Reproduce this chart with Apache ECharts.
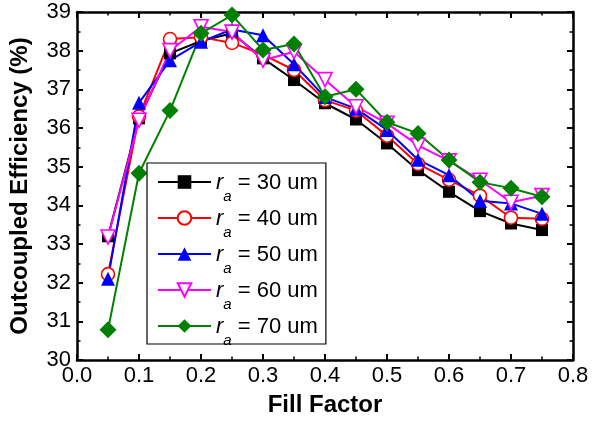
<!DOCTYPE html>
<html>
<head>
<meta charset="utf-8">
<script src="https://cdn.jsdelivr.net/npm/echarts@6/dist/echarts.min.js"></script>
<style>
  html, body { margin: 0; padding: 0; background: #fff; }
  #chart { width: 592px; height: 425px; }
</style>
</head>
<body>
<div id="chart"></div>
<script>
// fill factor values (x)
var fillFactor = [0.05, 0.1, 0.15, 0.2, 0.25, 0.3, 0.35, 0.4, 0.45, 0.5, 0.55, 0.6, 0.65, 0.7, 0.75]
// outcoupled efficiency (%) for each ra
var eff30 = [33.2, 36.25, 37.93, 38.25, 38.45, 37.8, 37.24, 36.64, 36.22, 35.6, 34.91, 34.35, 33.85, 33.53, 33.36]
var eff40 = [32.22, 36.3, 38.3, 38.35, 38.2, 37.9, 37.5, 36.72, 36.45, 35.8, 35.07, 34.66, 34.25, 33.68, 33.65]
var eff50 = [32.1, 36.65, 37.75, 38.23, 38.55, 38.4, 37.65, 36.8, 36.5, 35.95, 35.18, 34.78, 34.12, 34.05, 33.78]
var eff60 = [33.18, 36.2, 38.0, 38.62, 38.48, 37.75, 37.97, 37.25, 36.55, 36.12, 35.55, 35.15, 34.65, 34.08, 34.25]
var eff70 = [30.78, 34.83, 36.45, 38.45, 38.92, 38.02, 38.17, 36.81, 37.0, 36.15, 35.86, 35.17, 34.6, 34.44, 34.22]
var radii = ['30', '40', '50', '60', '70']

var FONT = 'Liberation Sans, Arial, sans-serif'
var downTri = 'path://M0,0 L10,0 L5,9 Z'

function pairs(ys) {
  var out = []
  ys.forEach(function (y, i) {
    out.push([fillFactor[i], y])
  })
  return out
}

function makeSeries(idx, ys, color, symbol, size, hollow) {
  return {
    name: 'r_a = ' + radii[idx] + ' um',
    type: 'line',
    data: pairs(ys),
    symbol: symbol,
    symbolSize: size,
    showAllSymbol: true,
    lineStyle: { color: color, width: 2 },
    itemStyle: hollow
      ? { color: '#ffffff', borderColor: color, borderWidth: 1.6 }
      : { color: color, borderColor: color, borderWidth: 0 },
    emphasis: { disabled: true },
    animation: false
  }
}

var frameAxis = {
  axisLine: { show: true, onZero: false, lineStyle: { color: '#000', width: 2.5 } },
  axisTick: { show: true, inside: true, length: 6, lineStyle: { color: '#000', width: 2 } },
  minorTick: { show: true, splitNumber: 2, length: 3.5, lineStyle: { color: '#000', width: 1.5 } },
  splitLine: { show: false }
}

function axis(extra) {
  return Object.assign({}, JSON.parse(JSON.stringify(frameAxis)), extra)
}

var chart = echarts.init(document.getElementById('chart'), null, { renderer: 'canvas' })

var option = {
  backgroundColor: '#ffffff',
  animation: false,
  grid: { left: 75, right: 19, top: 12, bottom: 65 },
  xAxis: [
    axis({
      type: 'value', min: 0, max: 0.8, interval: 0.1, position: 'bottom',
      name: 'Fill Factor', nameLocation: 'middle', nameGap: 33,
      nameTextStyle: { fontFamily: FONT, fontSize: 24, fontWeight: 'bold', color: '#000' },
      axisLabel: {
        margin: 5, fontFamily: FONT, fontSize: 22, color: '#000',
        formatter: function (v) { return v.toFixed(1) }
      }
    }),
    axis({
      type: 'value', min: 0, max: 0.8, interval: 0.1, position: 'top',
      axisLabel: { show: false }
    })
  ],
  yAxis: [
    axis({
      type: 'value', min: 30, max: 39, interval: 1, position: 'left',
      name: 'Outcoupled Efficiency (%)', nameLocation: 'middle', nameGap: 45,
      nameTextStyle: { fontFamily: FONT, fontSize: 24, fontWeight: 'bold', color: '#000' },
      axisLabel: { margin: 6, fontFamily: FONT, fontSize: 22, color: '#000' }
    }),
    axis({
      type: 'value', min: 30, max: 39, interval: 1, position: 'right',
      axisLabel: { show: false }
    })
  ],
  legend: {
    orient: 'vertical',
    left: 147,
    top: 163,
    padding: [7, 8, -4, 10],
    itemGap: 2,
    itemWidth: 53,
    itemHeight: 17,
    borderColor: '#000',
    borderWidth: 1.2,
    backgroundColor: '#ffffff',
    selectedMode: false,
    formatter: function (name) {
      return '{r|r}{a|a}{t|' + name.slice(3) + '}'
    },
    textStyle: {
      fontFamily: FONT,
      fontSize: 22,
      color: '#000',
      rich: {
        r: { fontFamily: FONT, fontSize: 22, fontStyle: 'italic', lineHeight: 24, padding: [2, 0, 0, 0], verticalAlign: 'top', color: '#000' },
        a: { fontFamily: FONT, fontSize: 15, fontStyle: 'italic', lineHeight: 10, padding: [19, 0, 0, 0], verticalAlign: 'top', color: '#000' },
        t: { fontFamily: FONT, fontSize: 22, lineHeight: 24, padding: [2, 0, 0, 0], verticalAlign: 'top', color: '#000' }
      }
    }
  },
  series: [
    makeSeries(0, eff30, '#000000', 'rect', 12, false),
    makeSeries(1, eff40, '#ff0000', 'circle', 13, true),
    makeSeries(2, eff50, '#0000ff', 'triangle', 14, false),
    makeSeries(3, eff60, '#ff00ff', downTri, 14, true),
    makeSeries(4, eff70, '#008000', 'diamond', 17, false)
  ]
}

chart.setOption(option)
</script>
</body>
</html>
